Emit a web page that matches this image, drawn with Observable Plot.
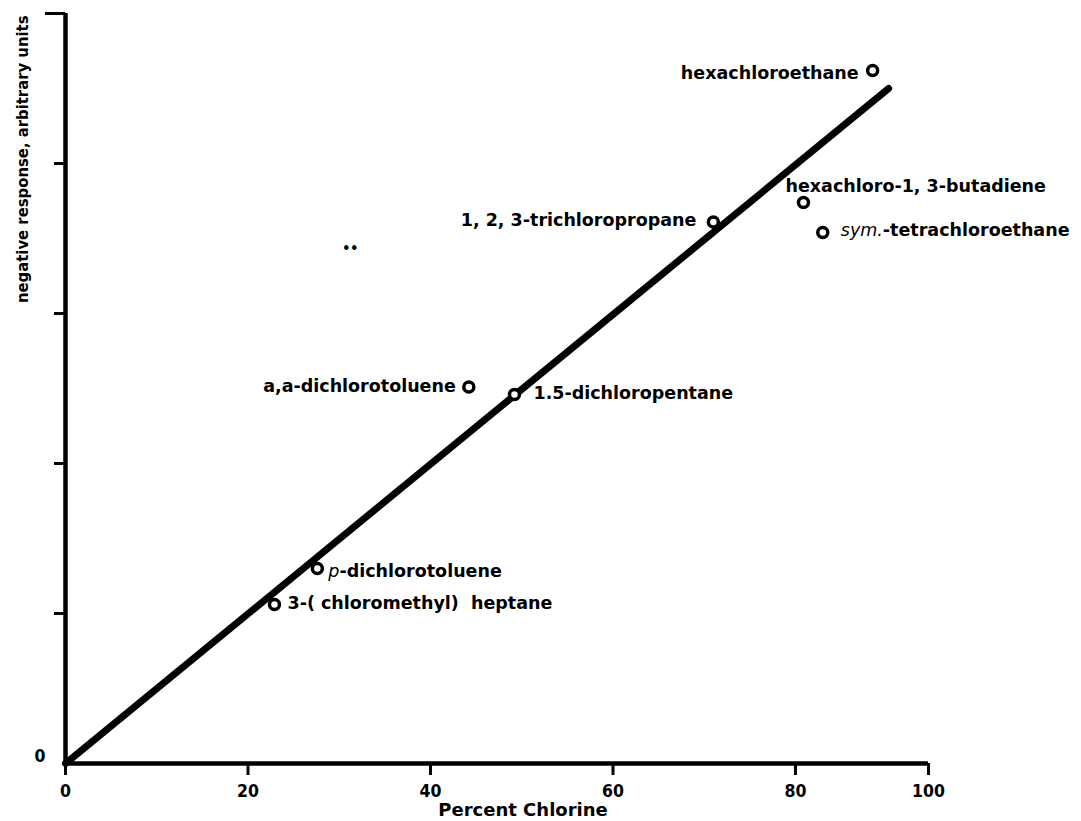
<!DOCTYPE html>
<html><head><meta charset="utf-8">
<script src="https://cdn.jsdelivr.net/npm/d3@7"></script>
<script src="https://cdn.jsdelivr.net/npm/@observablehq/plot@0.6"></script>
<style>
body{margin:0;background:#fff}
svg text{fill:#000;white-space:pre}
</style>
</head><body><div id="chart"></div>
<script>
// ---- data ----
const compounds = ["hexachloroethane", "hexachloro-1, 3-butadiene", "sym.-tetrachloroethane", "1, 2, 3-trichloropropane",
  "a,a-dichlorotoluene", "1.5-dichloropentane", "p-dichlorotoluene", "3-( chloromethyl)  heptane"];
const percentChlorine = [91.6, 81.2, 84.1, 71.0, 44.2, 49.2, 27.6, 22.9];
const response = [4.62, 3.74, 3.54, 3.61, 2.51, 2.46, 1.30, 1.06];
const fitX = [0, 94.0];
const fitY = [0, 4.50];
const xTicks = [0, 20, 40, 60, 80, 100];
const yTicks = [1, 2, 3, 4, 5];
const specks = [{x: 31.2, y: 3.43, t: "••"}];

// ---- layout (label placement, not data) ----
const labelLayout = [
  {anchor: "end", dx: -14, dy: 3},
  {anchor: "start", dx: -18, dy: -16},
  {anchor: "start", dx: 18, dy: -2},
  {anchor: "end", dx: -17, dy: -2},
  {anchor: "end", dx: -13, dy: -1},
  {anchor: "start", dx: 19, dy: -1},
  {anchor: "start", dx: 11, dy: 3},
  {anchor: "start", dx: 13, dy: -1}
];

const points = compounds.map((name, i) => ({name, x: percentChlorine[i], y: response[i], ...labelLayout[i]}));
const fit = fitX.map((x, i) => ({x, y: fitY[i]}));

const W = 1081, H = 821;
const mLeft = 65, px80 = 795, pxRight = 928, mTop = 13, pxBottom = 763;

const labelMarks = points.map(p => Plot.text([p], {
  x: "x", y: "y", text: "name", textAnchor: p.anchor, dx: p.dx, dy: p.dy,
  fontSize: 17.5, fontWeight: "bold", fontFamily: "'DejaVu Sans', sans-serif"
}));

const condensed = "'DejaVu Sans Condensed', 'DejaVu Sans', sans-serif";

const chart = Plot.plot({
  width: W, height: H,
  marginLeft: mLeft, marginRight: W - pxRight, marginTop: mTop, marginBottom: H - pxBottom,
  style: {fontFamily: condensed, fontWeight: "bold", background: "#fff", color: "#000"},
  // piecewise linear x scale: the original's 100 tick is drawn closer than the others
  x: {type: "linear", domain: [0, 80, 100], range: [mLeft, px80, pxRight]},
  y: {type: "linear", domain: [0, 5]},
  marks: [
    Plot.axisX({ticks: xTicks, tickSize: 12, tickPadding: 9, strokeWidth: 3, fontSize: 17.5, tickFormat: d => String(d), label: null}),
    Plot.axisY({ticks: yTicks.slice(0, 4), tickSize: 11, strokeWidth: 3, tickFormat: () => "", label: null}),
    Plot.axisY({ticks: [yTicks[4]], tickSize: 20, strokeWidth: 3, tickFormat: () => "", label: null}),
    Plot.axisY({ticks: [0], tickSize: 0, tickPadding: 20, dy: -7, fontSize: 17.5, tickFormat: d => String(d), label: null}),
    Plot.ruleY([0], {strokeWidth: 4.5}),
    Plot.ruleX([0], {strokeWidth: 4.5}),
    Plot.line(fit, {x: "x", y: "y", strokeWidth: 7, strokeLinecap: "round"}),
    Plot.dot(points, {x: "x", y: "y", r: 5, stroke: "#000", strokeWidth: 3.5, fill: "#fff"}),
    ...labelMarks,
    Plot.text(specks, {x: "x", y: "y", text: "t", fontSize: 14}),
    Plot.text(["Percent Chlorine"], {frameAnchor: "bottom", lineAnchor: "middle", dx: 26, dy: 47, fontSize: 18, fontFamily: "'DejaVu Sans', sans-serif"}),
    Plot.text(["negative response, arbitrary units"], {frameAnchor: "top-left", dx: -49, dy: 2, rotate: -90, textAnchor: "end", fontSize: 16.5})
  ]
});

// italic prefixes ("sym." and "p")
d3.select(chart).selectAll("text").each(function() {
  const t = this.textContent;
  const m = t.match(/^(sym\.|p)(-.*)$/);
  if (m && this.children.length === 0) {
    const el = d3.select(this);
    el.text(null);
    el.append("tspan").attr("font-style", "italic").attr("font-weight", "normal").text(m[1]);
    el.append("tspan").text(m[2]);
  }
});

document.getElementById("chart").appendChild(chart);
</script>
</body></html>
